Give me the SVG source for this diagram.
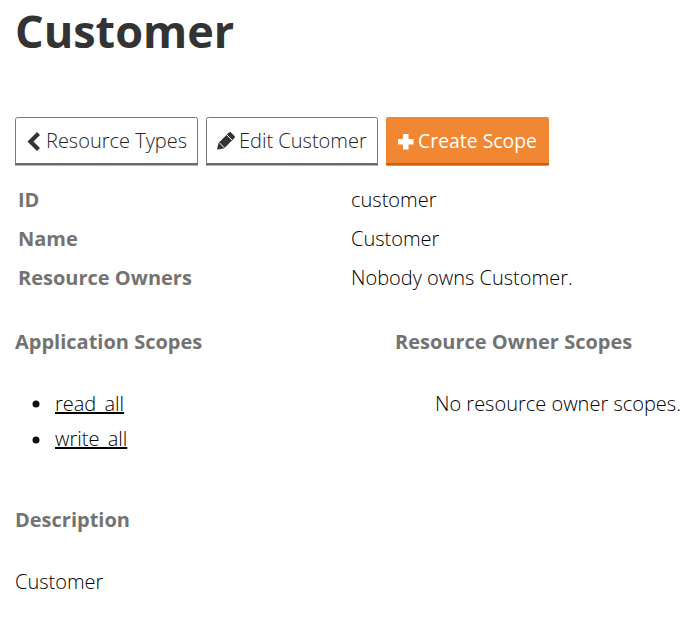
<svg xmlns="http://www.w3.org/2000/svg" width="696" height="625" viewBox="0 0 696 625">
<style>
text{font-family:"Open Sans","Noto Sans",sans-serif;font-size:20px;font-weight:300;fill:#000}
.b{font-weight:700;fill:#737373}
.btn{fill:#fff;stroke:#777;stroke-width:1}
.sh{fill:#6b6b6b}
.u{text-decoration:underline}
</style>
<rect width="696" height="625" fill="#fff"/>
<text x="15" y="48" style="font-size:45px;font-weight:700;fill:#333">Customer</text>
<g id="btn-resource-types"><rect class="btn" x="15.500" y="117.500" width="182" height="47" rx="2"/><rect class="sh" x="15" y="163" width="183" height="2.500"/>
<path d="M37 132l-9.500 9.500 9.500 9.500 3-3-6.500-6.500 6.500-6.500z" fill="#333"/><text x="46" y="148" style="fill:#222">Resource Types</text></g>
<g id="btn-edit-customer"><rect class="btn" x="206.500" y="117.500" width="171" height="47" rx="2"/><rect class="sh" x="206" y="163" width="172" height="2.500"/>
<path d="M217 149.500l1.500-6.500 10.500-10.500q1-1 2 0l3.500 3.500q1 1 0 2l-10.500 10.500z" fill="#333"/><path d="M227 135l5 5M219.500 143l5 5" stroke="#fff" stroke-width="1" fill="none"/><text x="239" y="148" style="fill:#222">Edit Customer</text></g>
<g id="btn-create-scope"><rect x="386" y="117" width="163" height="48.500" rx="2" fill="#f18732"/><rect x="386" y="163" width="163" height="2.500" fill="#cf5f10"/>
<path d="M403 134h5.500v5h5v5.500h-5v5h-5.500v-5h-5v-5.500h5z" fill="#fff"/><text x="418" y="148" textLength="119" lengthAdjust="spacingAndGlyphs" style="fill:#fff;font-weight:400">Create Scope</text></g>
<g id="details"><text class="b" x="18" y="207">ID</text><text x="351" y="207">customer</text>
<text class="b" x="18" y="246">Name</text><text x="351" y="246">Customer</text>
<text class="b" x="18" y="285">Resource Owners</text><text x="351" y="285">Nobody owns Customer.</text></g>
<g id="app-scopes"><text class="b" x="15" y="349">Application Scopes</text>
<circle cx="36" cy="404" r="3.500" fill="#111"/><text class="u" x="55" y="411">read_all</text>
<circle cx="36" cy="440" r="3.500" fill="#111"/><text class="u" x="55" y="446">write_all</text></g>
<g id="owner-scopes"><text class="b" x="395" y="349">Resource Owner Scopes</text><text x="435" y="411">No resource owner scopes.</text></g>
<g id="description"><text class="b" x="15" y="527">Description</text><text x="15" y="589">Customer</text></g>
</svg>
